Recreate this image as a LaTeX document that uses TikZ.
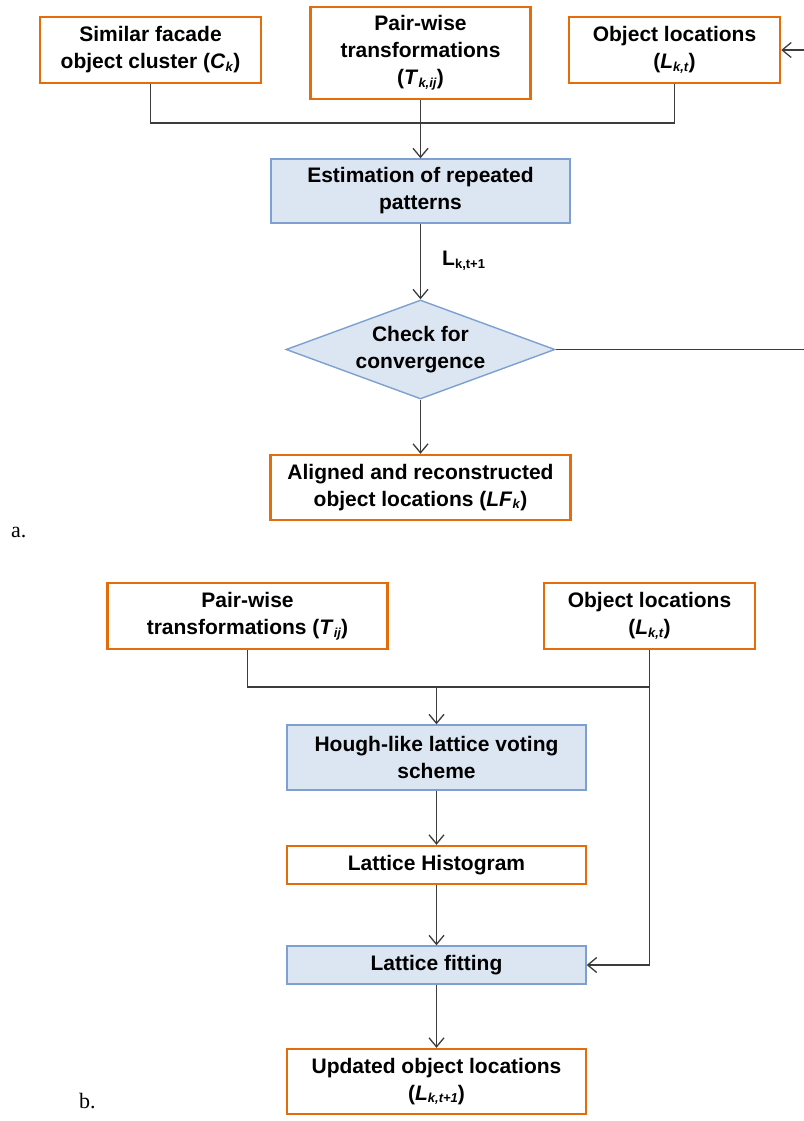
\documentclass[tikz,border=0pt]{standalone}
\usepackage{fontspec}
\setmainfont{Liberation Sans}
\newfontfamily\capfont{Liberation Serif}
\usetikzlibrary{shapes.geometric,arrows.meta}

\definecolor{boxorange}{RGB}{228,108,10}
\definecolor{boxblue}{RGB}{220,230,242}
\definecolor{edgeblue}{RGB}{126,160,208}
\definecolor{wire}{RGB}{60,60,60}

% small lowered index used in the box labels
\newcommand\sbx[1]{\raisebox{-0.12em}{\fontsize{13}{13}\selectfont #1}}

\begin{document}
\begin{tikzpicture}[x=1pt,y=-1pt,
  every node/.style={font=\fontsize{21}{27}\selectfont\bfseries, align=center, inner sep=0pt},
  iobox/.style={draw=boxorange, line width=2.4pt, fill=white},
  procbox/.style={draw=edgeblue, line width=1.4pt, fill=boxblue},
  wireline/.style={draw=wire, line width=1.3pt},
  arr/.style={wireline, -{Straight Barb[length=9pt,width=15pt,line width=1.3pt]}},
  caption/.style={font=\capfont\fontsize{22}{22}\selectfont, anchor=west}
]
\useasboundingbox (0,0) rectangle (803,1121);

% ---------------- a. iterative estimation ----------------
\node[iobox, minimum width=221pt, minimum height=66pt] (ck) at (150.5,50)
  {Similar facade\\object cluster (\textit{C}\sbx{\textit{k}})};
\node[iobox, minimum width=220pt, minimum height=92pt] (tk) at (420.5,53)
  {Pair-wise\\transformations\\(\textit{T}\sbx{\textit{k,ij}})};
\node[iobox, minimum width=211pt, minimum height=66pt] (lk) at (674.5,50)
  {Object locations\\(\textit{L}\sbx{\textit{k,t}})};

\node[procbox, minimum width=299pt, minimum height=64pt] (est) at (420.5,191)
  {Estimation of repeated\\patterns};
\node[procbox, diamond, minimum width=269pt, minimum height=99pt,
      label={[font=\fontsize{21}{27}\selectfont\bfseries, align=center]center:Check for\\convergence}]
  (chk) at (420.5,349.5) {};
\node[iobox, minimum width=300pt, minimum height=65pt] (lf) at (420.5,487.5)
  {Aligned and reconstructed\\object locations (\textit{LF}\sbx{\textit{k}})};

\node[anchor=west] (lnext) at (442,261) {L\sbx{k,t+1}};
\node[caption] (capa) at (11,532) {a.};

\coordinate (joina) at (420.5,123);
\coordinate (loop) at (806,50);

\draw[wireline] (ck.south) |- (joina) -| (lk.south);
\draw[arr] (tk.south) -- (est.north);
\draw[arr] (est.south) -- (chk.north);
\draw[arr] (chk.south) -- (lf.north);
\draw[arr] (chk.east) -| (loop) -- (lk.east);

% ---------------- b. lattice fitting ----------------
\node[iobox, minimum width=280pt, minimum height=66pt] (tij) at (247.5,616)
  {Pair-wise\\transformations (\textit{T}\sbx{\textit{ij}})};
\node[iobox, minimum width=211pt, minimum height=66pt] (lb) at (649.5,616)
  {Object locations\\(\textit{L}\sbx{\textit{k,t}})};

\node[procbox, minimum width=299pt, minimum height=65pt] (hough) at (436.5,757.5)
  {Hough-like lattice voting\\scheme};
\node[iobox, minimum width=299pt, minimum height=38pt] (hist) at (436.5,865)
  {Lattice Histogram};
\node[procbox, minimum width=299pt, minimum height=38pt] (fit) at (436.5,965)
  {Lattice fitting};
\node[iobox, minimum width=299pt, minimum height=65pt] (upd) at (436.5,1081.5)
  {Updated object locations\\(\textit{L}\sbx{\textit{k,t+1}})};

\node[caption] (capb) at (79,1101) {b.};

\coordinate (joinb) at (436.5,687);

\draw[wireline] (tij.south) |- (lb.south |- joinb);
\draw[arr] (joinb) -- (hough.north);
\draw[arr] (lb.south) |- (fit.east);
\draw[arr] (hough.south) -- (hist.north);
\draw[arr] (hist.south) -- (fit.north);
\draw[arr] (fit.south) -- (upd.north);
\end{tikzpicture}
\end{document}
